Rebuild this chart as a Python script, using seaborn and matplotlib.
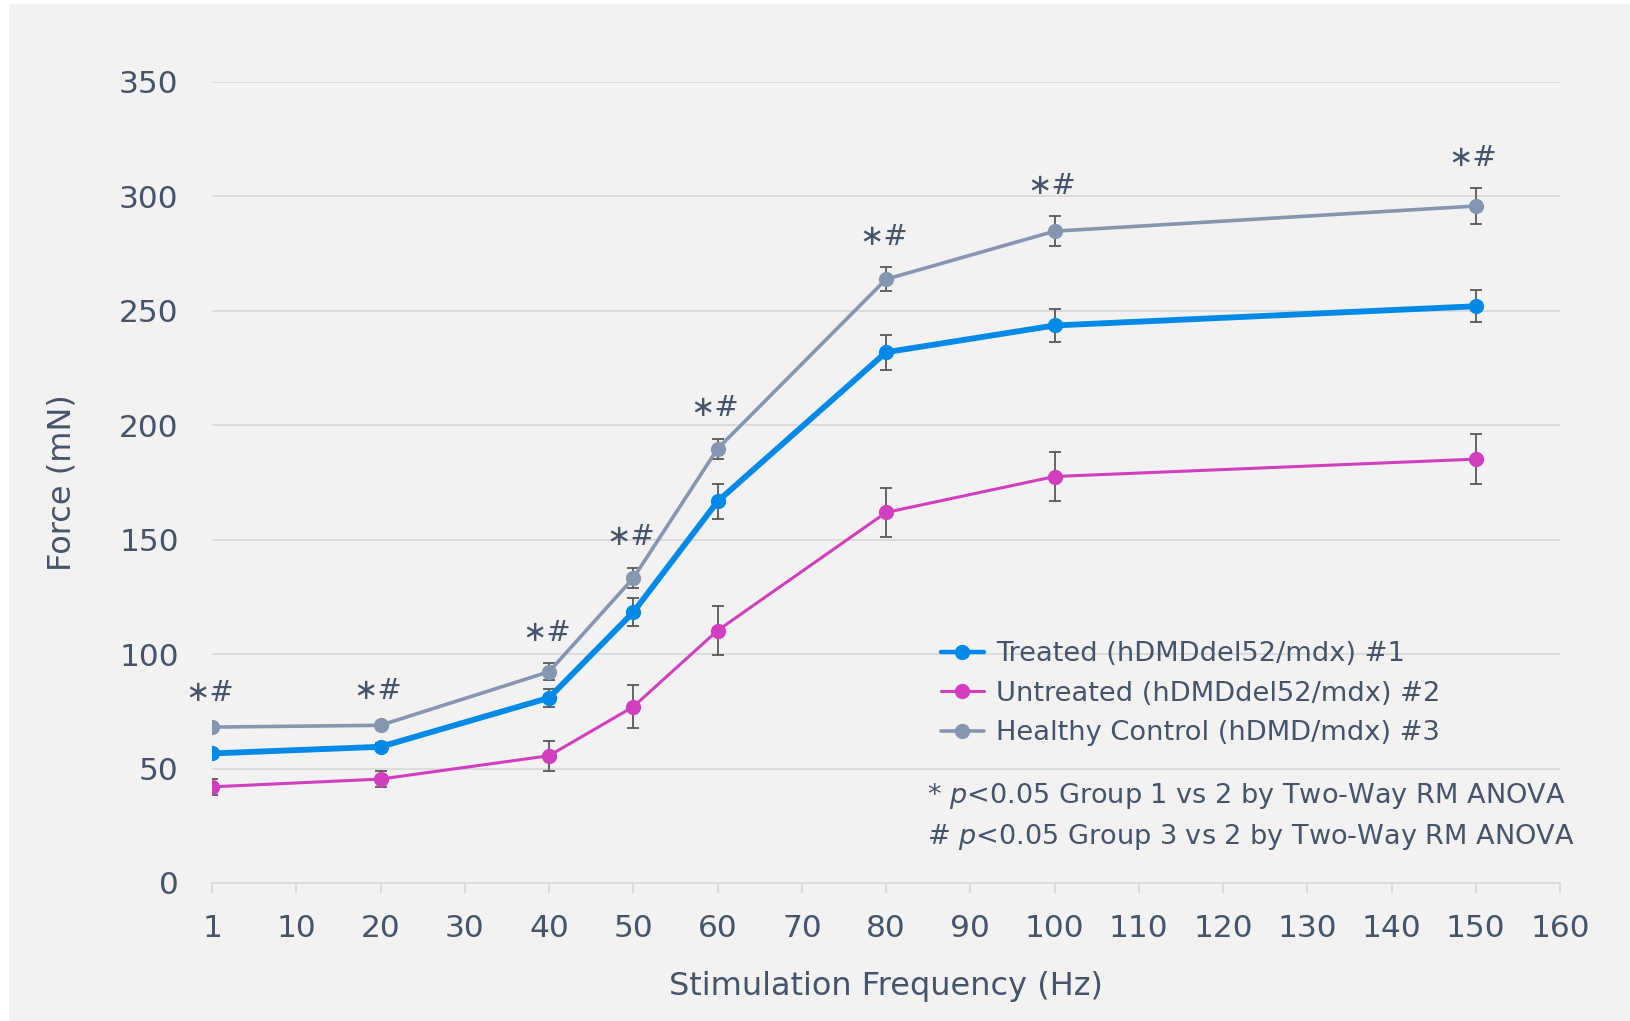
import numpy as np
import pandas as pd
import seaborn as sns
import matplotlib
matplotlib.use("Agg")
import matplotlib.pyplot as plt
from matplotlib.lines import Line2D
from matplotlib.patches import Rectangle

# ---------------- data ----------------
freq = [1, 20, 40, 50, 60, 80, 100, 150]
groups = ["Treated (hDMDdel52/mdx) #1",
          "Untreated (hDMDdel52/mdx) #2",
          "Healthy Control (hDMD/mdx) #3"]
treated = [56.6, 59.5, 80.9, 118.3, 166.7, 231.9, 243.6, 252.0]
treated_err = [1.5, 1.5, 3.9, 6.1, 7.8, 7.7, 7.3, 7.0]
untreated = [42.0, 45.4, 55.6, 77.0, 110.3, 161.9, 177.6, 185.2]
untreated_err = [3.5, 3.4, 6.6, 9.3, 10.9, 10.6, 10.9, 10.9]
healthy = [68.1, 68.9, 92.3, 133.2, 189.7, 263.8, 284.8, 295.8]
healthy_err = [1.5, 1.5, 3.6, 4.5, 4.4, 5.2, 6.6, 7.8]
sig_labels = ["\u2217#"] * len(freq)
xtick_vals = list(range(0, 161, 10))
xtick_labels = ["1"] + [str(v) for v in range(10, 161, 10)]
ytick_vals = list(range(0, 351, 50))
notes = ["* $\\it{p}$<0.05 Group 1 vs 2 by Two-Way RM ANOVA",
         "# $\\it{p}$<0.05 Group 3 vs 2 by Two-Way RM ANOVA"]

# the first frequency (1 Hz) sits at the origin of the axis
xpos = [0 if f == 1 else f for f in freq]

values = [treated, untreated, healthy]
errors = [treated_err, untreated_err, healthy_err]
df = pd.DataFrame({
    "x": xpos * 3,
    "force": treated + untreated + healthy,
    "err": treated_err + untreated_err + healthy_err,
    "group": [g for g in groups for _ in freq],
})

# ---------------- style ----------------
sns.set_theme(style="white")
plt.rcParams["font.family"] = ["DejaVu Sans"]
plt.rcParams["mathtext.fontset"] = "custom"
plt.rcParams["mathtext.it"] = "DejaVu Sans:italic"
plt.rcParams["mathtext.rm"] = "DejaVu Sans"

TXT = "#44546a"
GRID = "#d9d9d9"
BG = "#f2f2f2"
colors = ["#0089e6", "#d23fbe", "#8597b0"]
lws = [4.2, 2.2, 2.6]

fig = plt.figure(figsize=(16.31, 10.21), dpi=100, facecolor="white")
fig.patches.append(Rectangle((9 / 1631, 0), 1 - 9 / 1631, 1 - 4 / 1021,
                             transform=fig.transFigure, facecolor=BG,
                             edgecolor="none", zorder=-10))
ax = fig.add_axes([0.130, 0.1352, 0.8265, 0.7845])
ax.set_facecolor(BG)
ax.patch.set_alpha(0)

# grid
ax.set_axisbelow(True)
ax.yaxis.grid(True, color=GRID, linewidth=1.3)
ax.xaxis.grid(False)
for s in ["top", "right", "left"]:
    ax.spines[s].set_visible(False)
ax.spines["bottom"].set_color(GRID)
ax.spines["bottom"].set_linewidth(1.3)

# error bars (behind markers)
for vals, errs in zip(values, errors):
    ax.errorbar(xpos, vals, yerr=errs, fmt="none", ecolor="#595959",
                elinewidth=1.3, capsize=4.5, capthick=1.3, zorder=2)

# lines with seaborn
for g, c, lw in zip(groups, colors, lws):
    sns.lineplot(data=df[df["group"] == g], x="x", y="force", ax=ax,
                 color=c, linewidth=lw, marker="o", markersize=11,
                 markeredgewidth=0, markeredgecolor=c, zorder=3,
                 legend=False, errorbar=None)

# significance marks above healthy-control points
for x, v, e, lab in zip(xpos, healthy, healthy_err, sig_labels):
    ax.annotate(lab, xy=(x, v + e), xytext=(-2, 22), textcoords="offset points",
                ha="center", va="center", fontsize=21, color=TXT)

ax.set_xlim(0, 160)
ax.set_ylim(0, 350)
ax.set_xticks(xtick_vals)
ax.set_xticklabels(xtick_labels)
ax.set_yticks(ytick_vals)
ax.tick_params(axis="x", length=7, width=1.3, color=GRID, pad=15,
               labelsize=22.5, labelcolor=TXT, direction="out", bottom=True)
ax.tick_params(axis="y", length=0, pad=24, labelsize=22.5, labelcolor=TXT, left=False)

ax.set_xlabel("Stimulation Frequency (Hz)", fontsize=23, color=TXT)
ax.set_ylabel("Force (mN)", fontsize=23, color=TXT)
ax.xaxis.set_label_coords(0.5, -0.11)
ax.yaxis.set_label_coords(-0.100, 0.5)

handles = [Line2D([0], [0], color=c, lw=min(lw, 3.2), marker="o", markersize=11,
                  markeredgewidth=0) for c, lw in zip(colors, lws)]
leg = ax.legend(handles, groups, loc="upper left", bbox_to_anchor=(0.5405, 0.302),
                frameon=False, fontsize=19.6, labelcolor=TXT, handlelength=1.6,
                handletextpad=0.45, labelspacing=0.5, borderpad=0, borderaxespad=0)

for i, t in enumerate(notes):
    ax.text(0.5305, 0.1086 - 0.0514 * i, t, transform=ax.transAxes, ha="left",
            va="center", fontsize=19.5, color=TXT)

fig.savefig("out.png", dpi=100, facecolor=fig.get_facecolor())
